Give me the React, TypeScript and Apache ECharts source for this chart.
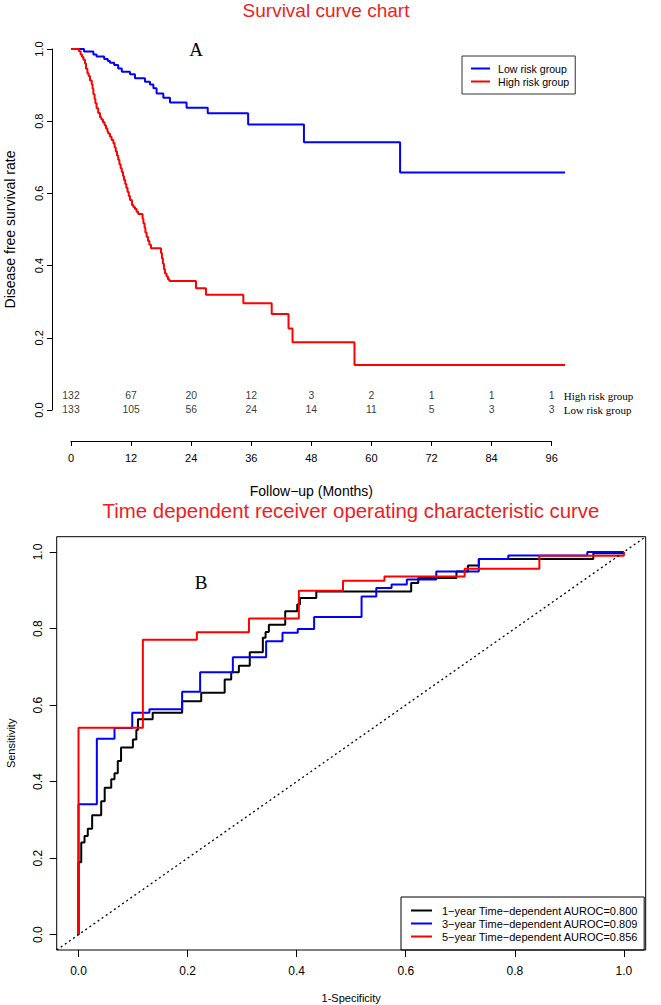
import React, { useEffect, useRef } from "react";
import * as echarts from "echarts";

// ---------- Survival (Kaplan-Meier) data: [month, survival probability] ----------
const riskGroups = ["Low risk group", "High risk group"];

const lowRiskCurve: number[][] = [
  [0, 1], [2.6, 0.993], [4.47, 0.985], [5.11, 0.979], [6.63, 0.972], [7.35, 0.967],
  [7.79, 0.962], [8.63, 0.956], [9.43, 0.946], [10.15, 0.937], [11.78, 0.93],
  [12.78, 0.919], [14.78, 0.909], [15.78, 0.902], [16.46, 0.891], [17.1, 0.877],
  [18.45, 0.865], [19.77, 0.852], [23.09, 0.837], [27.32, 0.822], [35.39, 0.791],
  [46.54, 0.742], [65.75, 0.658], [98.7, 0.658],
];

const highRiskCurve: number[][] = [
  [0, 1], [1.6, 0.994], [1.92, 0.985], [2.2, 0.978], [2.48, 0.97], [2.8, 0.96],
  [3.0, 0.945], [3.28, 0.933], [3.52, 0.925], [3.79, 0.913], [4.15, 0.902],
  [4.31, 0.89], [4.47, 0.875], [4.71, 0.862], [4.87, 0.85], [5.11, 0.836],
  [5.43, 0.823], [5.79, 0.811], [6.07, 0.805], [6.39, 0.797], [6.71, 0.789],
  [6.99, 0.78], [7.27, 0.772], [7.43, 0.766], [7.79, 0.757], [8.11, 0.748],
  [8.47, 0.739], [8.71, 0.727], [8.95, 0.716], [9.19, 0.705], [9.43, 0.693],
  [9.67, 0.681], [9.91, 0.67], [10.15, 0.659], [10.39, 0.648], [10.59, 0.637],
  [10.83, 0.626], [11.06, 0.615], [11.3, 0.604], [11.54, 0.593], [11.78, 0.582],
  [12.18, 0.568], [12.46, 0.562], [12.78, 0.557], [13.1, 0.549], [13.42, 0.543],
  [14.3, 0.53], [14.46, 0.517], [14.7, 0.505], [14.86, 0.492], [15.1, 0.48],
  [15.38, 0.468], [15.66, 0.458], [15.98, 0.448], [17.98, 0.435], [18.17, 0.42],
  [18.37, 0.405], [18.57, 0.39], [18.77, 0.378], [19.09, 0.37], [19.37, 0.362],
  [19.65, 0.357], [24.97, 0.337], [26.96, 0.319], [34.43, 0.296], [40.1, 0.266],
  [43.46, 0.226], [44.26, 0.188], [56.64, 0.125], [98.7, 0.125],
];

// number at risk table
const riskTimes = [0, 12, 24, 36, 48, 60, 72, 84, 96];
const highAtRisk = [132, 67, 20, 12, 3, 2, 1, 1, 1];
const lowAtRisk = [133, 105, 56, 24, 14, 11, 5, 3, 3];

// ---------- Time dependent ROC data: [1-specificity, sensitivity] ----------
const rocNames = [
  "1\u2212year Time\u2212dependent AUROC=0.800",
  "3\u2212year Time\u2212dependent AUROC=0.809",
  "5\u2212year Time\u2212dependent AUROC=0.856",
];

const roc1Year: number[][] = [
  [0, 0], [0, 0.189], [0.005, 0.241], [0.011, 0.258], [0.017, 0.277], [0.025, 0.312],
  [0.0416, 0.349], [0.048, 0.384], [0.06, 0.406], [0.066, 0.422], [0.072, 0.454],
  [0.078, 0.489], [0.0997, 0.51], [0.106, 0.535], [0.109, 0.563], [0.136, 0.58],
  [0.19, 0.61], [0.225, 0.632], [0.268, 0.667], [0.28, 0.686], [0.294, 0.703],
  [0.314, 0.738], [0.338, 0.776], [0.343, 0.791], [0.349, 0.81], [0.379, 0.845],
  [0.401, 0.863], [0.406, 0.88], [0.436, 0.897], [0.61, 0.919], [0.623, 0.932],
  [0.693, 0.949], [0.714, 0.965], [0.734, 0.982], [0.944, 0.997], [1.0, 1.0],
];

const roc3Year: number[][] = [
  [0, 0], [0, 0.341], [0.0336, 0.512], [0.066, 0.54], [0.0985, 0.58], [0.13, 0.589],
  [0.19, 0.635], [0.223, 0.686], [0.283, 0.725], [0.344, 0.767], [0.374, 0.789],
  [0.402, 0.799], [0.432, 0.83], [0.519, 0.884], [0.546, 0.906], [0.574, 0.915],
  [0.602, 0.928], [0.656, 0.949], [0.734, 0.982], [0.788, 0.991], [0.933, 1.0],
  [1.0, 1.0],
];

const roc5Year: number[][] = [
  [0, 0], [0, 0.541], [0.118, 0.771], [0.217, 0.79], [0.3125, 0.826], [0.404, 0.899],
  [0.485, 0.925], [0.561, 0.936], [0.708, 0.956], [0.845, 0.99], [1.0, 1.0],
];

const rocTicks = [0, 0.2, 0.4, 0.6, 0.8, 1.0];
const diagonal: number[][] = [[-0.04, -0.04], [1.04, 1.04]];

// ---------- styles ----------
const SANS = "'Liberation Sans', Arial, Helvetica, sans-serif";
const SERIF = "'Liberation Serif', 'Times New Roman', serif";
const RED = "#ee1d23";
const BLUE = "#0000ff";
const LINE_RED = "#ff0000";

export default function App() {
  const ref = useRef<HTMLDivElement>(null);

  useEffect(() => {
    if (!ref.current) return;
    const chart = echarts.init(ref.current, undefined, { renderer: "svg" });

    const option: any = {
      animation: false,
      backgroundColor: "#ffffff",
      textStyle: { fontFamily: SANS },
      graphic: [
        {
          type: "text", x: 326, y: 10.5,
          style: { text: "Survival curve chart", align: "center", verticalAlign: "middle", fontSize: 19, fontFamily: SANS, fill: RED },
        },
        {
          type: "text", x: 196, y: 49,
          style: { text: "A", align: "center", verticalAlign: "middle", fontSize: 19, fontFamily: SERIF, fill: "#000" },
        },
        {
          type: "text", x: 351, y: 511,
          style: { text: "Time dependent receiver operating characteristic curve", align: "center", verticalAlign: "middle", fontSize: 20.4, fontFamily: SANS, fill: RED },
        },
        {
          type: "text", x: 201, y: 582,
          style: { text: "B", align: "center", verticalAlign: "middle", fontSize: 19, fontFamily: SERIF, fill: "#000" },
        },
      ],
      legend: [
        {
          data: riskGroups,
          orient: "vertical",
          left: 462, top: 56,
          padding: [7, 6, 7, 9],
          itemWidth: 19, itemHeight: 2, itemGap: 2,
          icon: "rect",
          borderColor: "#333", borderWidth: 1,
          selectedMode: false,
          textStyle: { fontSize: 10.6, fontFamily: SANS, color: "#000", lineHeight: 11, padding: [0, 0, 0, 3] },
        },
        {
          data: rocNames,
          orient: "vertical",
          left: 401, top: 897,
          padding: [8, 6, 8, 10],
          itemWidth: 21, itemHeight: 2, itemGap: 2,
          icon: "rect",
          borderColor: "#000", borderWidth: 1,
          selectedMode: false,
          textStyle: { fontSize: 11, fontFamily: SANS, color: "#000", lineHeight: 11, padding: [0, 0, 0, 5] },
        },
      ],
      grid: [
        { left: 71, top: 49, width: 494, height: 361, containLabel: false, outerBoundsMode: "none" },
        { left: 71, top: 388.7, width: 480.7, height: 28, containLabel: false, outerBoundsMode: "none" },
        {
          left: 56.7, top: 536.7, width: 589, height: 413.3, containLabel: false, outerBoundsMode: "none",
          show: true, borderColor: "#000", borderWidth: 1, backgroundColor: "transparent",
        },
      ],
      xAxis: [
        { gridIndex: 0, type: "value", min: 0, max: 98.7, show: false },
        {
          gridIndex: 1, type: "value", min: 0, max: 96, interval: 12,
          position: "bottom", offset: 24.3,
          axisLine: { show: true, onZero: false, lineStyle: { color: "#000", width: 1 } },
          axisTick: { show: true, length: 5, lineStyle: { color: "#000" } },
          axisLabel: { margin: 11, fontSize: 11, fontFamily: SANS, color: "#000" },
          splitLine: { show: false },
          name: "Follow\u2212up (Months)", nameLocation: "middle", nameGap: 42.7,
          nameTextStyle: { fontSize: 14, fontFamily: SANS, color: "#000" },
        },
        {
          gridIndex: 2, type: "value", min: -0.04, max: 1.04,
          axisLine: { show: false, onZero: false },
          axisTick: { show: true, length: 7, customValues: rocTicks, lineStyle: { color: "#000" } },
          axisLabel: { customValues: rocTicks, formatter: (v: number) => v.toFixed(1), margin: 15, fontSize: 12, fontFamily: SANS, color: "#000" },
          splitLine: { show: false },
          name: "1-Specificity", nameLocation: "middle", nameGap: 42,
          nameTextStyle: { fontSize: 11, fontFamily: SANS, color: "#000" },
        },
      ],
      yAxis: [
        {
          gridIndex: 0, type: "value", min: 0, max: 1, interval: 0.2,
          position: "left", offset: 19,
          axisLine: { show: true, onZero: false, lineStyle: { color: "#000", width: 1 } },
          axisTick: { show: true, length: 5, lineStyle: { color: "#000" } },
          axisLabel: { rotate: 90, margin: 8, fontSize: 11, fontFamily: SANS, color: "#000", formatter: (v: number) => v.toFixed(1) },
          splitLine: { show: false },
          name: "Disease free survival rate", nameLocation: "middle", nameGap: 35,
          nameTextStyle: { fontSize: 14, fontFamily: SANS, color: "#000" },
        },
        {
          gridIndex: 1, type: "category", data: riskGroups, position: "right",
          axisLine: { show: false, onZero: false }, axisTick: { show: false },
          axisLabel: { interval: 0, margin: 12, fontSize: 11, fontFamily: SERIF, color: "#000" },
          splitLine: { show: false },
        },
        {
          gridIndex: 2, type: "value", min: -0.04, max: 1.04,
          axisLine: { show: false, onZero: false },
          axisTick: { show: true, length: 7, customValues: rocTicks, lineStyle: { color: "#000" } },
          axisLabel: { customValues: rocTicks, rotate: 90, formatter: (v: number) => v.toFixed(1), margin: 13, fontSize: 12, fontFamily: SANS, color: "#000" },
          splitLine: { show: false },
          name: "Sensitivity", nameLocation: "middle", nameGap: 40,
          nameTextStyle: { fontSize: 11, fontFamily: SANS, color: "#000" },
        },
      ],
      series: [
        {
          type: "line", name: riskGroups[0], xAxisIndex: 0, yAxisIndex: 0,
          data: lowRiskCurve, step: "end", symbol: "none",
          lineStyle: { color: BLUE, width: 2 }, itemStyle: { color: BLUE },
        },
        {
          type: "line", name: riskGroups[1], xAxisIndex: 0, yAxisIndex: 0,
          data: highRiskCurve, step: "end", symbol: "none",
          lineStyle: { color: LINE_RED, width: 2 }, itemStyle: { color: LINE_RED },
        },
        {
          type: "scatter", xAxisIndex: 1, yAxisIndex: 1, silent: true,
          data: riskTimes.map((t, i) => [t, riskGroups[1], highAtRisk[i]]),
          symbolSize: 0,
          label: { show: true, position: "inside", formatter: (p: any) => String(p.value[2]), fontSize: 10.4, fontFamily: SANS, color: "#000" },
        },
        {
          type: "scatter", xAxisIndex: 1, yAxisIndex: 1, silent: true,
          data: riskTimes.map((t, i) => [t, riskGroups[0], lowAtRisk[i]]),
          symbolSize: 0,
          label: { show: true, position: "inside", formatter: (p: any) => String(p.value[2]), fontSize: 10.4, fontFamily: SANS, color: "#000" },
        },
        {
          type: "line", name: rocNames[0], xAxisIndex: 2, yAxisIndex: 2,
          data: roc1Year, step: "end", symbol: "none",
          lineStyle: { color: "#000", width: 2 }, itemStyle: { color: "#000" },
        },
        {
          type: "line", name: rocNames[1], xAxisIndex: 2, yAxisIndex: 2,
          data: roc3Year, step: "end", symbol: "none",
          lineStyle: { color: BLUE, width: 2 }, itemStyle: { color: BLUE },
        },
        {
          type: "line", name: rocNames[2], xAxisIndex: 2, yAxisIndex: 2,
          data: roc5Year, step: "end", symbol: "none",
          lineStyle: { color: LINE_RED, width: 2 }, itemStyle: { color: LINE_RED },
        },
        {
          type: "line", xAxisIndex: 2, yAxisIndex: 2, silent: true,
          data: diagonal, symbol: "none",
          lineStyle: { color: "#000", width: 1.3, type: [2, 3] },
        },
      ],
    };

    chart.setOption(option);
    return () => chart.dispose();
  }, []);

  return (
    <div
      ref={ref}
      style={{ position: "absolute", left: 0, top: 0, width: 661, height: 1005, background: "#fff" }}
    />
  );
}
